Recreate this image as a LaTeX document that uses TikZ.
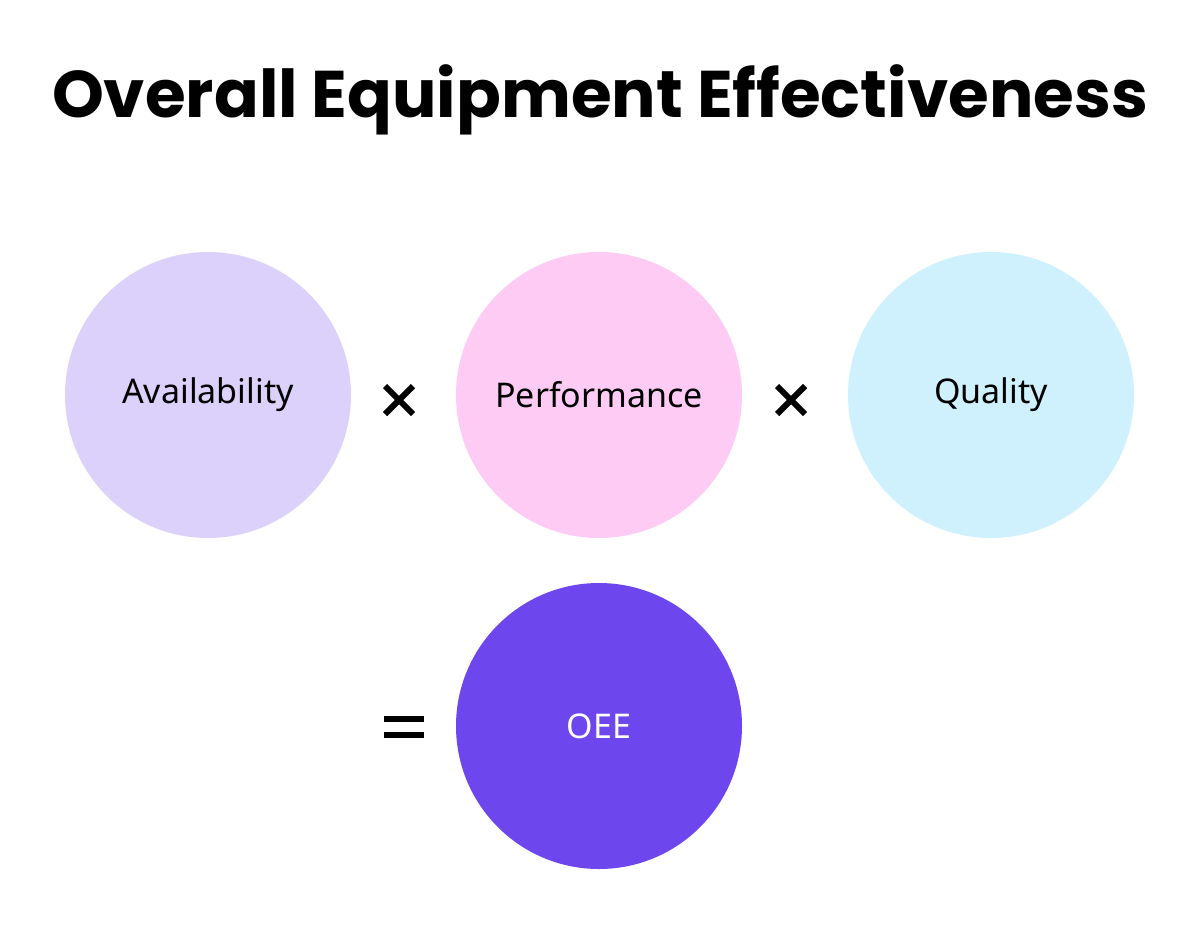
\documentclass[tikz,border=0pt]{standalone}
\usepackage{fontspec}
\setmainfont{Noto Sans}
\newfontfamily\titlefont[UprightFont={* Bold}]{Poppins}
\definecolor{cavail}{HTML}{DCD1FA}
\definecolor{cperf}{HTML}{FDCBF4}
\definecolor{cqual}{HTML}{CFF1FD}
\definecolor{coee}{HTML}{6E46EE}
\begin{document}
\begin{tikzpicture}[x=1pt,y=-1pt,
  disc/.style={circle,minimum size=286pt,inner sep=0pt,font=\fontsize{34}{40}\selectfont},
  op/.style={font=\fontsize{60}{60}\selectfont\bfseries}]
\useasboundingbox[fill=white] (0,0) rectangle (1200,932);
\node[font=\titlefont\fontsize{66}{70}\selectfont] (title) at (600,100) {Overall Equipment Effectiveness};
\node[disc,fill=cavail] (a) at (208,395) {Availability};
\node[disc,fill=cperf] (p) at (599,395) {Performance};
\node[disc,fill=cqual] (q) at (991,395) {Quality};
\node[disc,fill=coee,text=white] (o) at (599,726) {OEE};
\node (x1) at (399,400) {}; \node (x2) at (791,400) {}; \node (eq) at (404,727) {};
\foreach \n in {x1,x2}{
  \draw[line width=6pt] ([shift={(-14,-14)}]\n.center) -- ([shift={(14,14)}]\n.center);
  \draw[line width=6pt] ([shift={(-14,14)}]\n.center) -- ([shift={(14,-14)}]\n.center);}
\draw[line width=6pt] ([shift={(-20,-8)}]eq.center) -- ([shift={(20,-8)}]eq.center);
\draw[line width=6pt] ([shift={(-20,8)}]eq.center) -- ([shift={(20,8)}]eq.center);
\end{tikzpicture}
\end{document}
